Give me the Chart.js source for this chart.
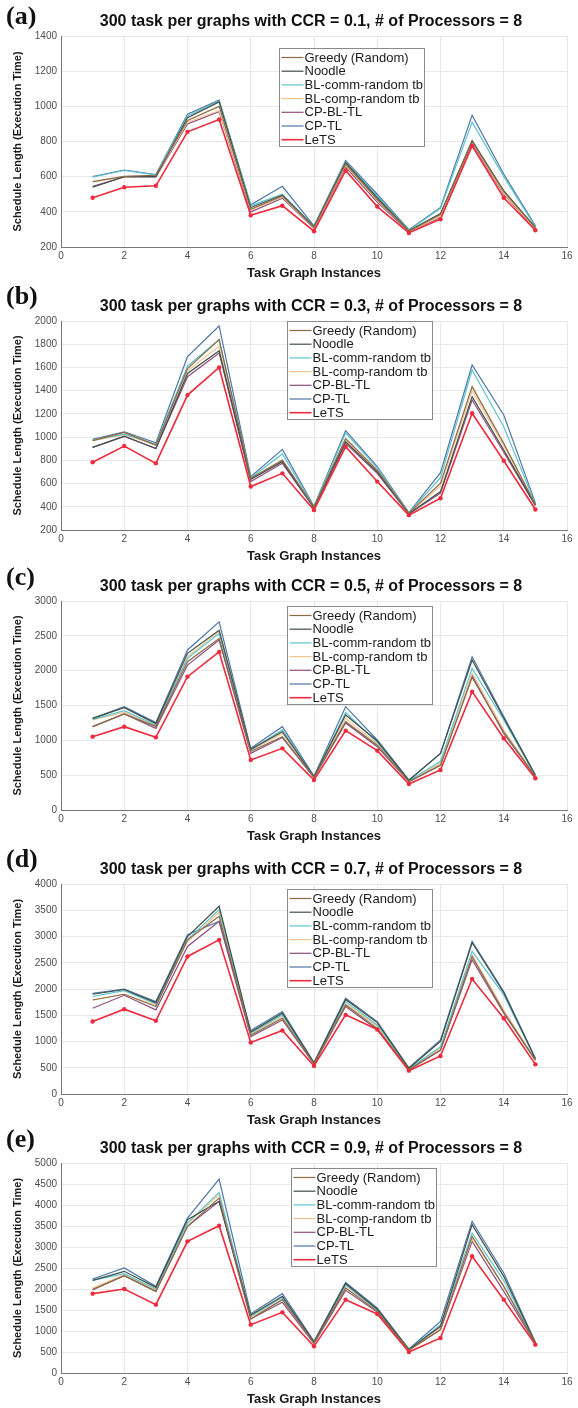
<!DOCTYPE html>
<html>
<head>
<meta charset="utf-8">
<script src="https://cdn.jsdelivr.net/npm/chart.js@4.4.1/dist/chart.umd.min.js"></script>
<style>
html, body { margin: 0; padding: 0; background: #fff; overflow: hidden; }
body { width: 578px; height: 1408px; position: relative; }
.panel { position: absolute; left: 0; width: 578px; }
.panel canvas { display: block; }
</style>
</head>
<body>
<div class="panel" id="p0"><canvas id="c0"></canvas></div>
<div class="panel" id="p1"><canvas id="c1"></canvas></div>
<div class="panel" id="p2"><canvas id="c2"></canvas></div>
<div class="panel" id="p3"><canvas id="c3"></canvas></div>
<div class="panel" id="p4"><canvas id="c4"></canvas></div>
<script>
// ---- data ----
const instances = [1, 2, 3, 4, 5, 6, 7, 8, 9, 10, 11, 12, 13, 14, 15];
const panelLetters = ['(a)', '(b)', '(c)', '(d)', '(e)'];
const ccrValues = ['0.1', '0.3', '0.5', '0.7', '0.9'];
const yMin = [200, 200, 0, 0, 0];
const yMax = [1400, 2000, 3000, 4000, 5000];
const yStep = [200, 200, 500, 500, 500];
const xTickMin = 0, xTickMax = 16, xTickStep = 2;

const seriesNames = ['Greedy (Random)', 'Noodle', 'BL-comm-random tb', 'BL-comp-random tb', 'CP-BL-TL', 'CP-TL', 'LeTS'];

// one row per CCR panel (0.1, 0.3, 0.5, 0.7, 0.9)
const greedy = [
    [572, 602, 608, 920, 1000, 415, 490, 312, 672, 470, 290, 385, 800, 515, 310],
    [970, 1040, 931, 1591, 1840, 645, 803, 398, 988, 716, 345, 603, 1435, 946, 420],
    [1196, 1378, 1200, 2129, 2462, 840, 1053, 470, 1268, 930, 410, 646, 1904, 1120, 480],
    [1790, 1900, 1666, 2936, 3385, 1120, 1443, 575, 1697, 1250, 465, 840, 2620, 1560, 645],
    [1984, 2317, 1944, 3492, 4167, 1286, 1746, 714, 2024, 1468, 545, 1032, 3250, 2063, 705]
];
const noodle = [
    [540, 600, 600, 935, 1025, 425, 495, 315, 680, 480, 292, 390, 805, 520, 312],
    [912, 1009, 902, 1548, 1743, 637, 789, 392, 960, 700, 340, 531, 1349, 889, 414],
    [1316, 1470, 1240, 2249, 2581, 870, 1124, 480, 1363, 990, 425, 813, 2153, 1320, 500],
    [1900, 1990, 1740, 3000, 3576, 1180, 1540, 590, 1800, 1360, 490, 1000, 2880, 1930, 670],
    [2206, 2421, 2040, 3650, 4087, 1380, 1825, 740, 2130, 1520, 560, 1111, 3532, 2302, 720]
];
const blComm = [
    [598, 635, 610, 945, 1030, 435, 500, 318, 685, 490, 295, 420, 910, 600, 315],
    [975, 1026, 940, 1611, 1840, 650, 855, 400, 1035, 735, 348, 650, 1578, 1090, 425],
    [1300, 1426, 1220, 2177, 2534, 860, 1150, 478, 1400, 970, 420, 700, 2033, 1292, 490],
    [1857, 1970, 1717, 2936, 3513, 1160, 1507, 585, 1760, 1316, 480, 900, 2717, 1890, 660],
    [2206, 2365, 2000, 3571, 4302, 1349, 1800, 730, 2103, 1500, 555, 1150, 3333, 2200, 715]
];
const blComp = [
    [570, 600, 605, 910, 975, 410, 485, 308, 665, 465, 288, 375, 795, 505, 305],
    [970, 1020, 931, 1571, 1783, 640, 800, 395, 975, 710, 343, 580, 1400, 925, 418],
    [1292, 1400, 1210, 2200, 2560, 852, 1100, 475, 1316, 950, 415, 670, 1962, 1148, 485],
    [1790, 1900, 1690, 2900, 3462, 1140, 1470, 580, 1720, 1290, 470, 870, 2650, 1600, 650],
    [2024, 2340, 1980, 3550, 4246, 1330, 1746, 720, 2080, 1490, 550, 1080, 3214, 2063, 710]
];
const cpBlTl = [
    [545, 598, 598, 900, 970, 400, 478, 305, 655, 455, 286, 368, 785, 500, 300],
    [912, 1005, 902, 1520, 1725, 617, 774, 388, 946, 688, 338, 517, 1320, 870, 410],
    [1196, 1378, 1172, 2081, 2440, 813, 1040, 465, 1250, 909, 405, 640, 1930, 1100, 478],
    [1634, 1880, 1603, 2810, 3290, 1095, 1411, 570, 1666, 1230, 460, 830, 2560, 1540, 640],
    [1984, 2317, 1944, 3492, 4087, 1286, 1683, 700, 1968, 1450, 540, 1032, 3135, 1944, 700]
];
const cpTl = [
    [600, 638, 612, 955, 1035, 440, 545, 320, 692, 500, 298, 425, 950, 615, 320],
    [980, 1046, 951, 1693, 1957, 660, 894, 405, 1055, 745, 350, 694, 1621, 1191, 434],
    [1316, 1483, 1254, 2297, 2700, 885, 1196, 486, 1483, 1005, 431, 813, 2201, 1340, 502],
    [1917, 2000, 1760, 3032, 3290, 1210, 1570, 598, 1825, 1380, 500, 1030, 2907, 1950, 680],
    [2238, 2500, 2063, 3690, 4619, 1413, 1889, 754, 2159, 1548, 571, 1230, 3611, 2381, 730]
];
const lets = [
    [480, 540, 548, 855, 925, 380, 435, 290, 635, 430, 280, 358, 775, 480, 295],
    [783, 923, 774, 1362, 1600, 574, 688, 371, 917, 617, 328, 474, 1205, 797, 377],
    [1053, 1196, 1043, 1914, 2270, 718, 885, 431, 1139, 852, 373, 574, 1699, 1029, 455],
    [1380, 1616, 1393, 2620, 2936, 980, 1210, 535, 1507, 1230, 445, 725, 2190, 1443, 565],
    [1889, 2000, 1627, 3135, 3508, 1151, 1444, 635, 1746, 1405, 500, 833, 2778, 1746, 675]
];
const allSeries = [greedy, noodle, blComm, blComp, cpBlTl, cpTl, lets];

// ---- styles / layout ----
const seriesColors = ['#8b6a45', '#3f4f4a', '#5bc4cc', '#f3c48d', '#8e4f80', '#4f76a6', '#ee2a3c'];
const plotTop = [36, 321, 601, 884, 1163];
const plotH = [211, 209, 209, 210, 210];
const legendPos = [[218, 12], [226, 0], [226, 5], [226, 5], [230, 5]];
const letterY = [17.5, 12.5, 13.5, 12, 13];
const plotLeft = 61, plotRight = 567;

const FONT = '"Liberation Sans", Arial, Helvetica, sans-serif';

const decorPlugin = {
    id: 'decor',
    afterDraw(chart, args, opts) {
        const ctx = chart.ctx;
        const a = chart.chartArea;
        ctx.save();

        // panel letter
        ctx.fillStyle = '#111';
        ctx.textBaseline = 'middle';
        ctx.textAlign = 'left';
        ctx.font = 'bold 26px "Liberation Serif", "Times New Roman", serif';
        ctx.fillText(opts.letter, 6, opts.letterY);

        // title
        ctx.font = 'bold 16px ' + FONT;
        ctx.textAlign = 'center';
        ctx.fillText(opts.title, (a.left + a.right) / 2 - 3, a.top - 14.5);

        // legend box
        const bx = a.left + opts.legend[0] + 0.5;
        const by = a.top + opts.legend[1] + 0.5;
        const bw = 145, bh = 98, row = 13.7;
        ctx.fillStyle = '#fff';
        ctx.fillRect(bx, by, bw, bh);
        ctx.strokeStyle = '#8a8a8a';
        ctx.lineWidth = 1;
        ctx.strokeRect(bx, by, bw, bh);
        ctx.font = '13px ' + FONT;
        ctx.textAlign = 'left';
        chart.data.datasets.forEach(function (ds, i) {
            const y = by + 9 + i * row;
            ctx.strokeStyle = ds.borderColor;
            ctx.lineWidth = ds.borderWidth;
            ctx.beginPath();
            ctx.moveTo(bx + 2, y);
            ctx.lineTo(bx + 24, y);
            ctx.stroke();
            ctx.fillStyle = '#1a1a1a';
            ctx.fillText(ds.label, bx + 25, y + 0.5);
        });
        ctx.restore();
    }
};

function plainNumber(v) { return String(v); }

function makePanel(p) {
    const canvas = document.getElementById('c' + p);
    const top = plotTop[p] - 36;
    const height = 36 + plotH[p] + 34;
    document.getElementById('p' + p).style.top = top + 'px';
    canvas.width = 578;
    canvas.height = height;

    const datasets = seriesNames.map(function (name, s) {
        const isLets = s === seriesNames.length - 1;
        return {
            label: name,
            data: instances.map(function (x, i) { return { x: x, y: allSeries[s][p][i] }; }),
            borderColor: seriesColors[s],
            backgroundColor: seriesColors[s],
            borderWidth: isLets ? 1.6 : 1.2,
            pointRadius: isLets ? 2.2 : 0,
            pointBorderWidth: 0,
            pointBackgroundColor: seriesColors[s],
            tension: 0,
            order: isLets ? -1 : s
        };
    });

    new Chart(canvas, {
        type: 'line',
        data: { datasets: datasets },
        plugins: [decorPlugin],
        options: {
            responsive: false,
            animation: false,
            devicePixelRatio: 1,
            layout: { padding: { top: 36, left: 0, right: 578 - plotRight, bottom: 0 } },
            plugins: {
                legend: { display: false },
                tooltip: { enabled: false },
                title: { display: false },
                decor: {
                    letter: panelLetters[p],
                    letterY: letterY[p],
                    title: '300 task per graphs with CCR = ' + ccrValues[p] + ', # of Processors = 8',
                    legend: legendPos[p]
                }
            },
            scales: {
                x: {
                    type: 'linear',
                    min: xTickMin,
                    max: xTickMax,
                    ticks: { stepSize: xTickStep, color: '#4d4d4d', font: { family: FONT, size: 10 }, padding: 3, maxRotation: 0, callback: plainNumber },
                    grid: { color: '#e8e8e8', drawTicks: false },
                    border: { color: '#777', width: 1 },
                    title: {
                        display: true,
                        text: 'Task Graph Instances',
                        color: '#1a1a1a',
                        font: { family: FONT, size: 13, weight: 'bold' },
                        padding: { top: 0, bottom: 0 }
                    },
                    afterFit: function (scale) { scale.height = 34; }
                },
                y: {
                    min: yMin[p],
                    max: yMax[p],
                    ticks: { stepSize: yStep[p], color: '#4d4d4d', font: { family: FONT, size: 10 }, padding: 4, callback: plainNumber },
                    grid: { color: '#e8e8e8', drawTicks: false },
                    border: { color: '#777', width: 1 },
                    title: {
                        display: true,
                        text: 'Schedule Length (Execution Time)',
                        color: '#1a1a1a',
                        font: { family: FONT, size: 11, weight: 'bold' },
                        padding: { top: 11, bottom: 0 }
                    },
                    afterFit: function (scale) { scale.width = plotLeft; }
                }
            }
        }
    });
}

for (let p = 0; p < 5; p++) makePanel(p);
</script>
</body>
</html>
